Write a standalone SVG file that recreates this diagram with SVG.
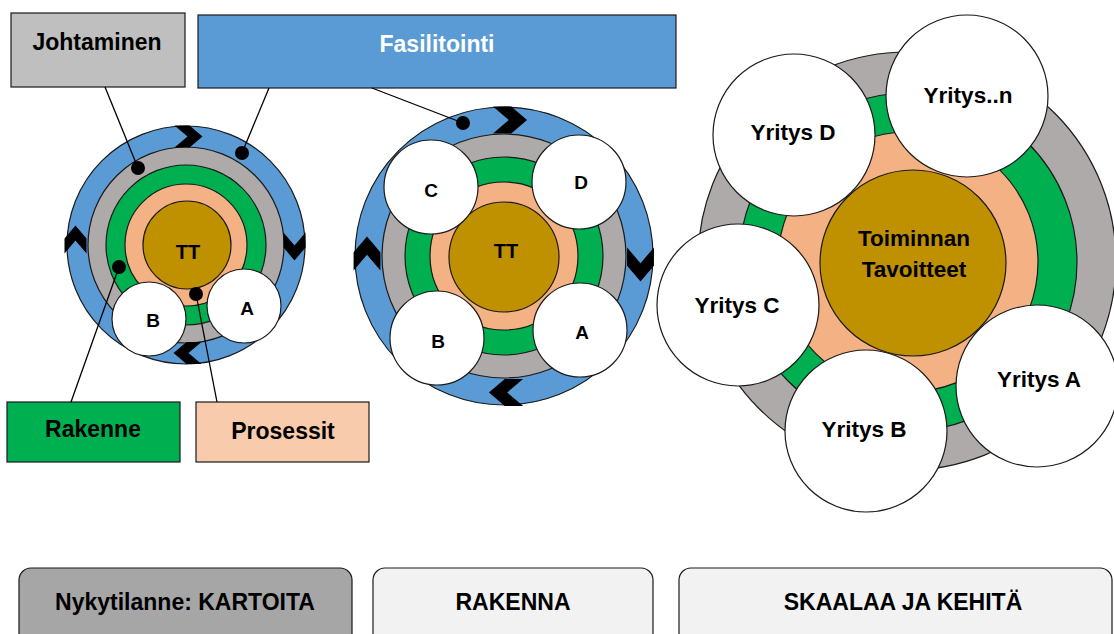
<svg xmlns="http://www.w3.org/2000/svg" xmlns:xlink="http://www.w3.org/1999/xlink" width="1114" height="634" viewBox="0 0 1114 634">
<style>
text{font-family:"Liberation Sans",Arial,sans-serif;font-weight:bold;text-anchor:middle;fill:#000}
.o{stroke:#1a1a1a;stroke-width:1.2}
.blue{fill:#5b9bd5}
.gray{fill:#aeaaaa}
.green{fill:#00b050}
.salmon{fill:#f4b183}
.tt{fill:#bf9000}
.white{fill:#ffffff}
.h{font-size:23px}
.s{font-size:19px}
.y{font-size:22.5px}
.b{font-size:23px}
.conn line{stroke:#000;stroke-width:1.3}
.dot{fill:#000}
.chev{fill:#000}
</style>
<defs>
<path id="chev" d="M-14,-11 H1 L14,0 L1,11 H-14 L-1,0 Z"/>
</defs>

<!-- Left diagram -->
<g id="left-diagram">
<circle class="o blue" cx="186" cy="245" r="119"/>
<circle class="o gray" cx="186" cy="245" r="98"/>
<circle class="o green" cx="186" cy="245" r="80"/>
<circle class="o salmon" cx="186" cy="245" r="61"/>
<circle class="o tt" cx="187" cy="245" r="44"/>
<text class="s" x="188" y="259" style="font-size:20px">TT</text>
</g>
<g id="left-B"><circle class="o white" cx="149" cy="319" r="37"/><text class="s" x="153" y="327">B</text></g>
<g id="left-A"><circle class="o white" cx="244" cy="306" r="37"/><text class="s" x="247" y="315">A</text></g>
<g id="left-chevrons" class="chev">
<use xlink:href="#chev" transform="translate(188.5,136.5) scale(1)"/>
<use xlink:href="#chev" transform="translate(75.5,239.5) rotate(-90) scale(1)"/>
<use xlink:href="#chev" transform="translate(294.5,246.5) rotate(90) scale(1)"/>
<use xlink:href="#chev" transform="translate(187.5,353) rotate(180) scale(1)"/>
</g>

<!-- Middle diagram -->
<g id="middle-diagram">
<circle class="o blue" cx="504" cy="256" r="149"/>
<circle class="o gray" cx="504" cy="256" r="122"/>
<circle class="o green" cx="504" cy="256" r="99"/>
<circle class="o salmon" cx="504" cy="256" r="74"/>
<circle class="o tt" cx="504" cy="257" r="55"/>
<text class="s" x="506" y="258" style="font-size:20px">TT</text>
</g>
<g id="mid-C"><circle class="o white" cx="431" cy="187" r="47"/><text class="s" x="431" y="197">C</text></g>
<g id="mid-D"><circle class="o white" cx="579" cy="182" r="47"/><text class="s" x="581" y="189">D</text></g>
<g id="mid-B"><circle class="o white" cx="437" cy="338" r="47"/><text class="s" x="438" y="348">B</text></g>
<g id="mid-A"><circle class="o white" cx="580" cy="330" r="47"/><text class="s" x="582" y="339">A</text></g>
<g id="mid-chevrons" class="chev">
<use xlink:href="#chev" transform="translate(510,120) scale(1.22)"/>
<use xlink:href="#chev" transform="translate(367,253.5) rotate(-90) scale(1.22)"/>
<use xlink:href="#chev" transform="translate(640.5,264.5) rotate(90) scale(1.22)"/>
<use xlink:href="#chev" transform="translate(506,392.5) rotate(180) scale(1.22)"/>
</g>

<!-- Right diagram -->
<g id="right-diagram">
<circle class="o gray" cx="907" cy="261" r="209"/>
<circle class="o green" cx="908" cy="262" r="169"/>
<circle class="o salmon" cx="908" cy="262" r="130"/>
<circle class="o tt" cx="913" cy="263" r="93"/>
<text class="y" x="914" y="246">Toiminnan</text>
<text class="y" x="914" y="277">Tavoitteet</text>
</g>
<g id="yritys-D"><circle class="o white" cx="794" cy="135" r="81"/><text class="y" x="793" y="140">Yritys D</text></g>
<g id="yritys-n"><circle class="o white" cx="967" cy="96" r="81"/><text class="y" x="968" y="103">Yritys..n</text></g>
<g id="yritys-C"><circle class="o white" cx="738" cy="305" r="81"/><text class="y" x="737" y="313">Yritys C</text></g>
<g id="yritys-B"><circle class="o white" cx="866" cy="431" r="81"/><text class="y" x="864" y="437">Yritys B</text></g>
<g id="yritys-A"><circle class="o white" cx="1037" cy="386" r="81"/><text class="y" x="1039" y="387">Yritys A</text></g>

<!-- Label boxes -->
<g id="johtaminen"><rect class="o" x="11" y="13" width="174" height="74" fill="#bfbfbf"/><text class="h" x="97" y="50">Johtaminen</text></g>
<g id="fasilitointi"><rect class="o blue" x="198" y="15" width="478" height="73"/><text class="h" x="437" y="52" style="fill:#fff">Fasilitointi</text></g>
<g id="rakenne"><rect class="o green" x="7" y="402" width="173" height="60"/><text class="h" x="93" y="437">Rakenne</text></g>
<g id="prosessit"><rect class="o" x="196" y="402" width="173" height="60" fill="#f8cbad"/><text class="h" x="283" y="439">Prosessit</text></g>

<!-- Connectors -->
<g id="connectors" class="conn">
<line x1="105" y1="87" x2="138" y2="168"/>
<line x1="269" y1="88" x2="242" y2="153"/>
<line x1="372" y1="88" x2="463" y2="123"/>
<line x1="71" y1="402" x2="119" y2="267"/>
<line x1="217" y1="402" x2="196" y2="294"/>
<circle class="dot" cx="138" cy="168" r="7"/>
<circle class="dot" cx="242" cy="153" r="7"/>
<circle class="dot" cx="463" cy="123" r="7"/>
<circle class="dot" cx="119" cy="267" r="7"/>
<circle class="dot" cx="196" cy="294" r="7"/>
</g>

<!-- Phase buttons -->
<g id="phase-1"><rect class="o" x="19" y="568" width="333" height="90" rx="12" fill="#a6a6a6"/><text class="b" x="185" y="610">Nykytilanne: KARTOITA</text></g>
<g id="phase-2"><rect class="o" x="373" y="568" width="280" height="90" rx="12" fill="#f2f2f2"/><text class="b" x="513" y="610">RAKENNA</text></g>
<g id="phase-3"><rect class="o" x="679" y="568" width="433" height="90" rx="12" fill="#f2f2f2"/><text class="b" x="903" y="610">SKAALAA JA KEHITÄ</text></g>
</svg>
